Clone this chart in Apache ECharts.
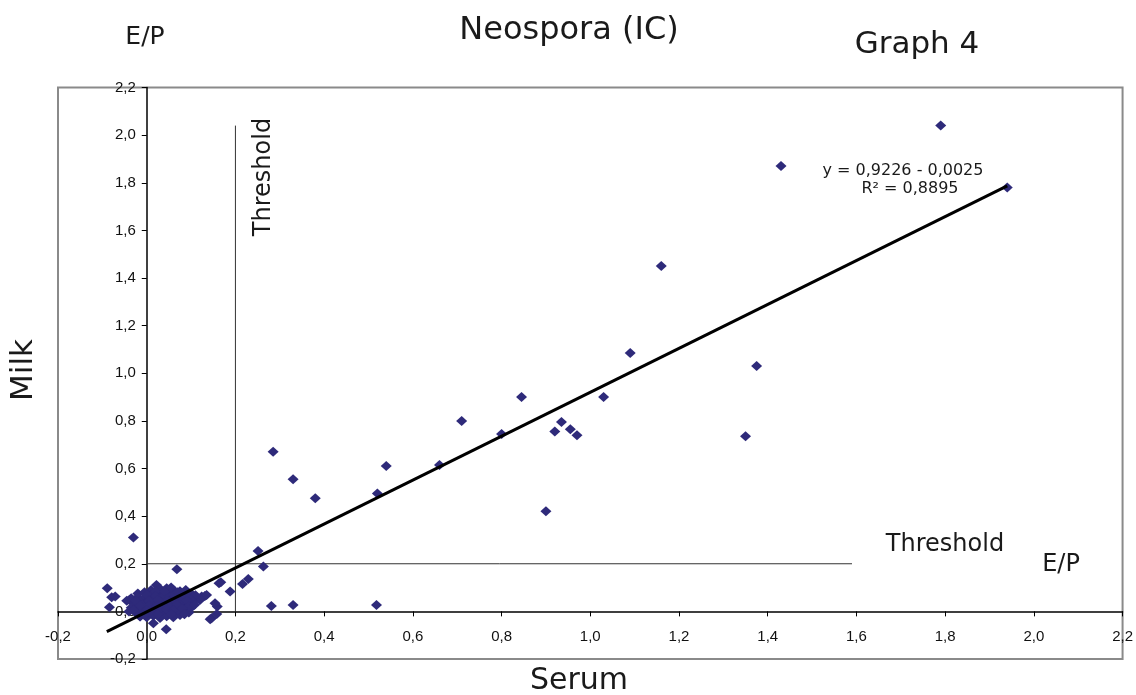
<!DOCTYPE html>
<html>
<head>
<meta charset="utf-8">
<script src="https://cdn.jsdelivr.net/npm/echarts@6/dist/echarts.min.js"></script>
<style>
html,body{margin:0;padding:0;background:#fff;}
#chart{width:1136px;height:695px;}
</style>
</head>
<body>
<div id="chart"></div>
<script>
// Serum (x) and Milk (y) E/P values
const serumX = [
  1.79, 1.43, 1.94, 1.16, 1.09, 1.375, 1.03, 0.845, 0.71, 0.80, 0.935, 0.955, 0.92, 0.97, 1.35, 0.90,
  0.66, 0.54, 0.285, 0.33, 0.38, 0.52, 0.518, 0.33, 0.281, -0.03, 0.251, 0.263, 0.068, 0.167, 0.188,
  0.229, 0.216, -0.089, -0.079, -0.071, -0.084, 0.131, 0.12, 0.124, 0.135, 0.159, 0.154, 0.146, 0.158,
  0.143, 0.044, 0.015, -0.039, 0.022, 0.163, -0.015,
  0.01, 0.03, 0.045, 0.06, 0.075, 0.09, 0.10,
  -0.02, -0.005, 0.015, 0.03, 0.05, 0.065, 0.08, 0.095, 0.11,
  -0.035, -0.02, -0.005, 0.01, 0.025, 0.04, 0.055, 0.07, 0.085, 0.10,
  -0.03, -0.015, 0.0, 0.015, 0.03, 0.045, 0.06, 0.075, 0.09, 0.105,
  -0.035, -0.02, -0.005, 0.01, 0.025, 0.04, 0.055, 0.07, 0.085, 0.10,
  -0.025, -0.01, 0.005, 0.02, 0.035, 0.05, 0.065, 0.08, 0.095,
  -0.015, 0.0, 0.015, 0.03, 0.045, 0.06, 0.075,
  -0.045, -0.04, 0.02, 0.035, 0.05, 0.065, 0.08, 0.015, -0.01, 0.07,
  0.0, 0.02, 0.04, 0.06, 0.085, -0.025, 0.005, 0.025, 0.045, 0.065, 0.09,
  -0.015, 0.005, 0.022, 0.05, 0.068, 0.095, -0.03, 0.0, 0.03, 0.045, 0.06, 0.08, 0.108,
  -0.005, 0.025, 0.055, 0.085, 0.04, 0.07, 0.055, 0.088
];
const milkY = [
  2.04, 1.87, 1.78, 1.45, 1.085, 1.03, 0.90, 0.90, 0.80, 0.745, 0.795, 0.765, 0.755, 0.74, 0.735, 0.42,
  0.615, 0.61, 0.67, 0.555, 0.475, 0.495, 0.027, 0.027, 0.023, 0.31, 0.254, 0.188, 0.177, 0.122, 0.083,
  0.136, 0.115, 0.097, 0.059, 0.062, 0.017, 0.065, 0.048, 0.062, 0.069, 0.02, 0.034, -0.029, -0.011,
  -0.033, -0.075, -0.05, 0.048, 0.111, 0.118, -0.022,
  0.09, 0.095, 0.097, 0.09, 0.085, 0.08, 0.075,
  0.075, 0.08, 0.075, 0.078, 0.075, 0.07, 0.072, 0.065, 0.068,
  0.055, 0.06, 0.058, 0.055, 0.06, 0.052, 0.058, 0.05, 0.055, 0.05,
  0.035, 0.04, 0.038, 0.03, 0.04, 0.035, 0.03, 0.038, 0.03, 0.04,
  0.015, 0.02, 0.012, 0.02, 0.01, 0.018, 0.012, 0.02, 0.01, 0.015,
  -0.005, 0.0, -0.008, 0.0, -0.005, 0.002, -0.01, 0.0, -0.005,
  -0.02, -0.025, -0.018, -0.028, -0.02, -0.025, -0.015,
  0.045, 0.0, 0.085, 0.065, 0.045, 0.062, 0.045, 0.045, 0.028, 0.005,
  0.07, 0.065, 0.068, 0.072, 0.068, 0.045, 0.045, 0.048, 0.045, 0.04, 0.045,
  0.025, 0.025, 0.022, 0.025, 0.028, 0.022, 0.005, 0.005, 0.008, 0.008, 0.005, 0.012, 0.028,
  -0.015, -0.012, -0.012, -0.012, 0.085, 0.08, 0.1, 0.09
];
// Trend line end points (y = 0,9226x - 0,0025)
const trendX = [-0.09, 1.94];
const trendY = [-0.085, 1.787];
// Threshold lines
const thresholdVX = [0.2, 0.2];
const thresholdVY = [0, 2.04];
const thresholdHX = [0, 1.59];
const thresholdHY = [0.2, 0.2];
// Axis
const axisMin = -0.2, axisMax = 2.2, axisStep = 0.2;

const fmt = v => (Math.abs(v) < 1e-9 ? 0 : v).toFixed(1).replace('.', ',');
const pairs = (xs, ys) => xs.map((x, i) => [x, ys[i]]);

const chart = echarts.init(document.getElementById('chart'), null, {renderer: 'canvas'});
const tickFont = 'Liberation Sans';
const textFont = 'DejaVu Sans';

const gridL = 58, gridR = 13, gridT = 87.5, gridB = 36;
const gridW = 1136 - gridL - gridR, gridH = 695 - gridT - gridB;
// move axes to cross at zero (offset inward from grid edge)
const xOffset = -gridH * (0 - axisMin) / (axisMax - axisMin);
const yOffset = -gridW * (0 - axisMin) / (axisMax - axisMin);

function txt(text, x, y, size, opts) {
  opts = opts || {};
  return {
    type: 'text', x: x, y: y, rotation: opts.rotation || 0, z: 100,
    style: {
      text: text, x: 0, y: 0,
      font: size + 'px "' + textFont + '"',
      fill: '#1a1a1a',
      textAlign: opts.align || 'center', align: opts.align || 'center',
      textVerticalAlign: 'middle', verticalAlign: 'middle'
    }
  };
}

const axisCommon = {
  type: 'value', min: axisMin, max: axisMax, interval: axisStep,
  axisLine: {show: true, onZero: false, lineStyle: {color: '#000', width: 1.5}},
  axisTick: {show: true, inside: false, length: 5, lineStyle: {color: '#000', width: 1}},
  splitLine: {show: false},
  axisLabel: {formatter: fmt, fontFamily: tickFont, fontSize: 15, color: '#111'}
};

chart.setOption({
  animation: false,
  backgroundColor: '#fff',
  grid: {left: gridL, right: gridR, top: gridT, bottom: gridB, show: true, borderColor: '#8a8a8a', borderWidth: 2, backgroundColor: 'transparent'},
  xAxis: Object.assign({}, axisCommon, {position: 'bottom', offset: xOffset,
    axisLabel: Object.assign({}, axisCommon.axisLabel, {margin: 18})}),
  yAxis: Object.assign({}, axisCommon, {position: 'left', offset: yOffset,
    axisLabel: Object.assign({}, axisCommon.axisLabel, {margin: 11})}),
  series: [
    {type: 'line', data: pairs(thresholdVX, thresholdVY), symbol: 'none', lineStyle: {color: '#333', width: 1}, z: 1},
    {type: 'line', data: pairs(thresholdHX, thresholdHY), symbol: 'none', lineStyle: {color: '#333', width: 1}, z: 1},
    {type: 'scatter', data: pairs(serumX, milkY), symbol: 'diamond', symbolSize: [11, 10],
      itemStyle: {color: '#2e2a7a', opacity: 1}, z: 2},
    {type: 'line', data: pairs(trendX, trendY), symbol: 'none', lineStyle: {color: '#000', width: 3}, z: 3}
  ],
  graphic: [
    txt('Neospora (IC)', 569, 31, 32),
    txt('E/P', 145, 37, 25),
    txt('Graph 4', 917, 45, 31),
    txt('Milk', 24, 370, 31, {rotation: Math.PI / 2}),
    txt('Serum', 579, 681, 30),
    txt('Threshold', 264, 177, 24, {rotation: Math.PI / 2}),
    txt('Threshold', 945, 545, 24),
    txt('E/P', 1061, 565, 24),
    txt('y = 0,9226 - 0,0025', 903, 171, 16),
    txt('R² = 0,8895', 910, 189, 16)
  ]
});
</script>
</body>
</html>
